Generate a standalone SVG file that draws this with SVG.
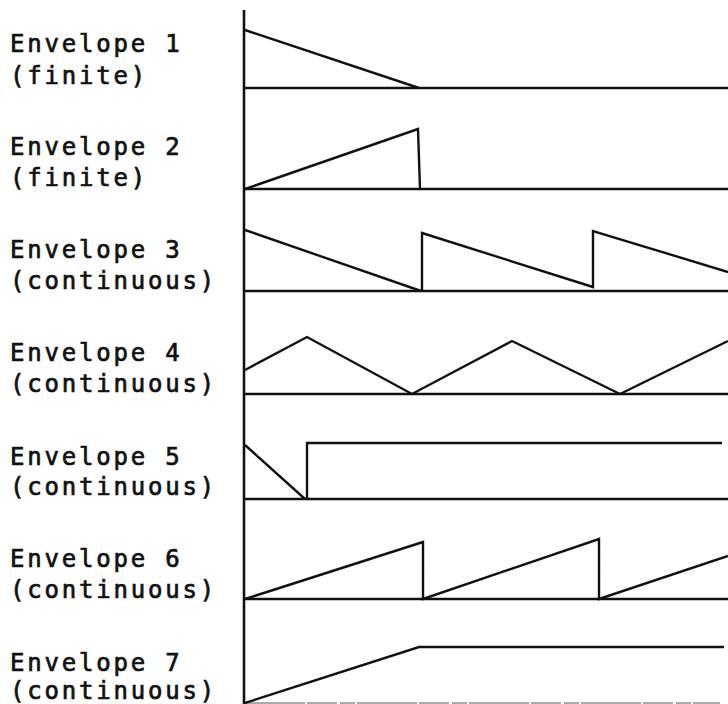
<svg xmlns="http://www.w3.org/2000/svg" width="728" height="704" viewBox="0 0 728 704">
  <style>
    .lbl { font-family: "DejaVu Sans Mono", "Liberation Mono", monospace; font-size: 24px; letter-spacing: 2.8px; fill: #111; stroke: #111; stroke-width: 0.7px; }
    .ln { fill: none; stroke: #111; stroke-width: 2.4; stroke-linejoin: miter; stroke-linecap: butt; }
    .base { fill: none; stroke: #111; stroke-width: 2.6; }
  </style>
  <rect width="728" height="704" fill="#fff"/>
  <g id="connectors">
    <line class="base" x1="244" y1="10" x2="244" y2="704"/>
    <line class="base" x1="245" y1="88" x2="728" y2="88"/>
    <line class="base" x1="245" y1="189" x2="728" y2="189"/>
    <line class="base" x1="245" y1="291" x2="728" y2="291"/>
    <line class="base" x1="245" y1="394" x2="728" y2="394"/>
    <line class="base" x1="245" y1="499" x2="728" y2="499"/>
    <line class="base" x1="245" y1="599" x2="728" y2="599"/>
    <line x1="245" y1="703" x2="720" y2="703" stroke="#aaa" stroke-width="2" stroke-dasharray="60 2 30 3 15 2"/>
  </g>
  <g id="env1">
    <text class="lbl" x="10" y="52">Envelope 1</text>
    <text class="lbl" x="10" y="84">(finite)</text>
    <polyline class="ln" points="245,30 419,88"/>
  </g>
  <g id="env2">
    <text class="lbl" x="10" y="155">Envelope 2</text>
    <text class="lbl" x="10" y="186">(finite)</text>
    <polyline class="ln" points="245,189 418,129 420,189"/>
  </g>
  <g id="env3">
    <text class="lbl" x="10" y="258">Envelope 3</text>
    <text class="lbl" x="10" y="289">(continuous)</text>
    <polyline class="ln" points="245,230 421,291"/>
    <polyline class="ln" points="422,291 422,233 593,287 593,231 728,272"/>
  </g>
  <g id="env4">
    <text class="lbl" x="10" y="361">Envelope 4</text>
    <text class="lbl" x="10" y="392">(continuous)</text>
    <polyline class="ln" points="245,370 307,337 412,394 512,341 620,394 728,341"/>
  </g>
  <g id="env5">
    <text class="lbl" x="10" y="465">Envelope 5</text>
    <text class="lbl" x="10" y="495">(continuous)</text>
    <polyline class="ln" points="245,445 305,499"/>
    <polyline class="ln" points="307,499 307,443 722,443"/>
  </g>
  <g id="env6">
    <text class="lbl" x="10" y="567">Envelope 6</text>
    <text class="lbl" x="10" y="598">(continuous)</text>
    <polyline class="ln" points="245,599 423,542 423,599 599,539 599,599 728,556"/>
  </g>
  <g id="env7">
    <text class="lbl" x="10" y="671">Envelope 7</text>
    <text class="lbl" x="10" y="699">(continuous)</text>
    <polyline class="ln" points="245,703 419,647 724,647"/>
  </g>
</svg>
